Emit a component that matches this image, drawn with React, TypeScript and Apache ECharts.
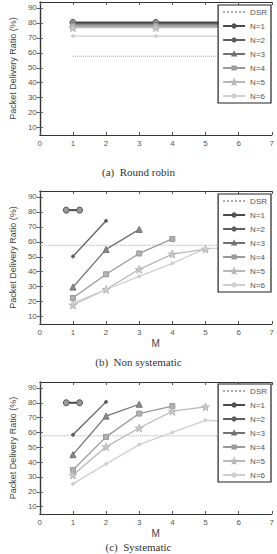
import React, { useEffect, useRef } from "react";
import * as echarts from "echarts";

const seriesNames = ["DSR", "N=1", "N=2", "N=3", "N=4", "N=5", "N=6"];
const yTicks = [10, 20, 30, 40, 50, 60, 70, 80, 90];
const captions = ["(a)  Round robin", "(b)  Non systematic", "(c)  Systematic"];

// Round robin: [M, ratio]
const rrDSR = [[1, 57.7], [6, 57.7]];
const rrN1 = [[1, 80.3], [3.5, 80.3], [6, 80.3]];
const rrN2 = [[1, 79.5], [3.5, 79.5], [6, 79.5]];
const rrN3 = [[1, 78.6], [3.5, 78.6], [6, 78.6]];
const rrN4 = [[1, 77.8], [3.5, 77.8], [6, 77.8]];
const rrN5 = [[1, 76.8], [3.5, 76.8], [6, 76.8]];
const rrN6 = [[1, 71.2], [3.5, 71.2], [6, 71.2]];

// Non systematic
const nsDSR = [[0, 57.7], [7, 57.7]];
const nsN1 = [[0.8, 81.2], [1.2, 81.2]];
const nsN2 = [[1, 50.2], [2, 74.1]];
const nsN3 = [[1, 29.7], [2, 54.9], [3, 68.3]];
const nsN4 = [[1, 22.4], [2, 38.3], [3, 52.2], [4, 61.9]];
const nsN5 = [[1, 17.7], [2, 28.1], [3, 41.6], [4, 51.8], [5, 55.1]];
const nsN6 = [[1, 19], [2, 28.1], [3, 36.9], [4, 45.6], [5, 55.5], [6, 56.2]];

// Systematic
const syDSR = [[0, 57.7], [7, 57.7]];
const syN1 = [[0.8, 80], [1.2, 80]];
const syN2 = [[1, 58.4], [2, 80.6]];
const syN3 = [[1, 45], [2, 71], [3, 79]];
const syN4 = [[1, 34.7], [2, 57], [3, 72.7], [4, 77.8]];
const syN5 = [[1, 31.3], [2, 50.3], [3, 63], [4, 74.3], [5, 77.2]];
const syN6 = [[1, 25.3], [2, 38.8], [3, 51.8], [4, 60], [5, 68.2], [6, 67]];

const panels = [
  [rrDSR, rrN1, rrN2, rrN3, rrN4, rrN5, rrN6],
  [nsDSR, nsN1, nsN2, nsN3, nsN4, nsN5, nsN6],
  [syDSR, syN1, syN2, syN3, syN4, syN5, syN6],
];

const STAR = "path://M50,0 L61,35 L98,35 L68,57 L79,91 L50,70 L21,91 L32,57 L2,35 L39,35 Z";

const styles = [
  { color: "#a8a8a8", width: 1, type: "dotted", symbol: "none", size: 0, fill: "#a8a8a8" },
  { color: "#4a4a4a", width: 2, type: "solid", symbol: "circle", size: 6, fill: "#9a9a9a" },
  { color: "#5e5e5e", width: 1.3, type: "solid", symbol: "circle", size: 3, fill: "#5e5e5e" },
  { color: "#727272", width: 1.3, type: "solid", symbol: "triangle", size: 6, fill: "#8a8a8a" },
  { color: "#999999", width: 1.3, type: "solid", symbol: "rect", size: 5, fill: "#b0b0b0" },
  { color: "#b8b8b8", width: 1.3, type: "solid", symbol: STAR, size: 8, fill: "#c8c8c8" },
  { color: "#cfcfcf", width: 1.3, type: "solid", symbol: "circle", size: 3, fill: "#cfcfcf" },
];

const gridTops = [2, 191, 382];
const gridHeights = [133, 133, 132];
const legendTops = [5, 194, 384];
const captionTops = [166, 356, 541];
const FONT = "Liberation Sans, Arial, sans-serif";

export default function App() {
  const ref = useRef<HTMLDivElement>(null);
  useEffect(() => {
    if (!ref.current) return;
    const chart = echarts.init(ref.current, undefined, { renderer: "svg" });
    const grid: any[] = [];
    const xAxis: any[] = [];
    const yAxis: any[] = [];
    const series: any[] = [];
    const legend: any[] = [];
    const graphic: any[] = [];
    const legendData = seriesNames.map((n, i) =>
      i === 0 ? { name: n, itemStyle: { opacity: 0 } } : { name: n }
    );
    for (let p = 0; p < 3; p++) {
      grid.push({ left: 29, width: 245, top: gridTops[p], height: gridHeights[p] });
      const axisLine = { show: true, lineStyle: { color: "#333", width: 1.2 } };
      const tick = { show: true, inside: true, length: 3, lineStyle: { color: "#555" } };
      xAxis.push({
        type: "value", gridIndex: p, min: 0, max: 7, interval: 1, position: "bottom",
        axisLine, axisTick: tick, splitLine: { show: false },
        axisLabel: { color: "#555", fontSize: 8, fontFamily: FONT, margin: 4 },
        name: p > 0 ? "M" : "", nameLocation: "middle", nameGap: 14,
        nameTextStyle: { color: "#444", fontSize: 10, fontFamily: FONT },
      });
      xAxis.push({
        type: "value", gridIndex: p, min: 0, max: 7, interval: 1, position: "top",
        axisLine, axisTick: tick, splitLine: { show: false }, axisLabel: { show: false },
      });
      yAxis.push({
        type: "value", gridIndex: p, min: 5, max: 94, position: "left",
        axisLine, splitLine: { show: false },
        axisTick: { ...tick, customValues: yTicks },
        axisLabel: { color: "#555", fontSize: 8, fontFamily: FONT, margin: 3, customValues: yTicks },
        name: "Packet Delivery Ratio (%)", nameLocation: "middle", nameGap: 16,
        nameTextStyle: { color: "#444", fontSize: 9, fontFamily: FONT },
      });
      yAxis.push({
        type: "value", gridIndex: p, min: 5, max: 94, position: "right",
        axisLine, splitLine: { show: false },
        axisTick: { ...tick, customValues: yTicks }, axisLabel: { show: false },
      });
      panels[p].forEach((data, i) => {
        const s = styles[i];
        series.push({
          type: "line", name: seriesNames[i], xAxisIndex: p * 2, yAxisIndex: p * 2,
          data, symbol: s.symbol, symbolSize: s.size, showSymbol: s.symbol !== "none",
          lineStyle: { color: s.color, width: s.width, type: s.type },
          itemStyle: { color: s.fill, borderColor: s.color, borderWidth: 1 },
          z: 2, z2: 10 - i,
        });
      });
      legend.push({
        data: legendData, orient: "vertical", right: 6, top: legendTops[p],
        itemWidth: 22, itemHeight: 4, itemGap: 6, padding: [3, 4],
        backgroundColor: "#fff", borderColor: "#222", borderWidth: 1.2, borderRadius: 0,
        textStyle: { color: "#555", fontSize: 8, fontFamily: FONT },
        selectedMode: false, z: 20,
      });
      graphic.push({
        type: "text", left: "center", top: captionTops[p],
        style: { text: captions[p], fill: "#333", fontSize: 11, fontFamily: "Liberation Serif, Times New Roman, serif" },
      });
    }
    chart.setOption({ animation: false, grid, xAxis, yAxis, series, legend, graphic });
    return () => chart.dispose();
  }, []);
  return <div ref={ref} style={{ position: "fixed", left: 0, top: 0, width: 277, height: 554, background: "#fff" }} />;
}
